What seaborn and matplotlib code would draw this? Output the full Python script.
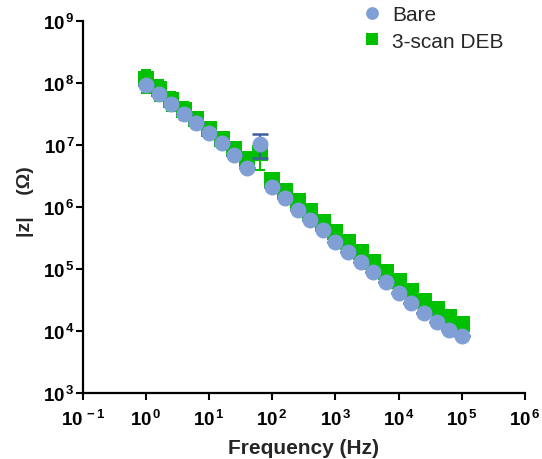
import numpy as np
import pandas as pd
import seaborn as sns
import matplotlib
matplotlib.use("Agg")
import matplotlib.pyplot as plt
from matplotlib.lines import Line2D

# Impedance magnitude vs. frequency (Bode plot), mean of scans
freq_hz = [1.0, 1.585, 2.512, 3.981, 6.31, 10.0, 15.85, 25.12, 39.81, 63.1,
           100.0, 158.5, 251.2, 398.1, 631.0, 1000.0, 1585.0, 2512.0, 3981.0, 6310.0,
           10000.0, 15850.0, 25120.0, 39810.0, 63100.0, 100000.0]

bare_z = [9.3e7, 6.6e7, 4.6e7, 3.2e7, 2.26e7, 1.55e7, 1.07e7, 6.9e6, 4.3e6, 1.05e7,
          2.1e6, 1.38e6, 8.9e5, 6.2e5, 4.2e5, 2.75e5, 1.86e5, 1.29e5, 8.9e4, 6.2e4,
          4.1e4, 2.8e4, 1.95e4, 1.38e4, 1.05e4, 8.3e3]
bare_sd = [0, 0, 0, 0, 0, 0, 0, 0, 0, 4.3e6,
           0, 0, 0, 0, 0, 0, 0, 0, 0, 0,
           0, 0, 0, 0, 0, 0]

deb_z = [1.16e8, 8.1e7, 5.4e7, 3.7e7, 2.6e7, 1.8e7, 1.23e7, 8.5e6, 6.0e6, 7.4e6,
         2.75e6, 1.82e6, 1.23e6, 8.7e5, 5.75e5, 3.9e5, 2.7e5, 1.86e5, 1.32e5, 9.1e4,
         6.3e4, 4.5e4, 3.1e4, 2.24e4, 1.7e4, 1.32e4]
deb_sd = [4.6e7, 3.0e7, 1.8e7, 1.2e7, 0, 0, 0, 0, 0, 3.4e6,
          0, 0, 0, 0, 0, 0, 0, 0, 0, 0,
          0, 0, 0, 0, 0, 0]

series_names = ["Bare", "3-scan DEB"]
x_tick_exps = [-1, 0, 1, 2, 3, 4, 5, 6]
y_tick_exps = [3, 4, 5, 6, 7, 8, 9]

bare_color = "#7f9fd5"
bare_err_color = "#3e5f9e"
deb_color = "#00c000"

sns.set_style("ticks")
plt.rcParams["font.family"] = ["Liberation Sans", "DejaVu Sans"]
plt.rcParams["mathtext.fontset"] = "custom"
plt.rcParams["mathtext.rm"] = "Liberation Sans:bold"
plt.rcParams["mathtext.bf"] = "Liberation Sans:bold"
plt.rcParams["mathtext.it"] = "Liberation Sans:bold"


def pow10_label(e):
    return f"$10^{{\\,{e}}}$"


df_bare = pd.DataFrame({"freq": freq_hz, "z": bare_z, "sd": bare_sd})
df_deb = pd.DataFrame({"freq": freq_hz, "z": deb_z, "sd": deb_sd})

fig = plt.figure(figsize=(5.42, 4.60), dpi=100)
ax = fig.add_axes([0.1526, 0.1435, 0.816, 0.8085])
ax.set_xscale("log")
ax.set_yscale("log")

# 3-scan DEB: error bars under the squares
ax.errorbar(df_deb["freq"], df_deb["z"], yerr=df_deb["sd"], fmt="none",
            ecolor=deb_color, elinewidth=1.5, capsize=3.8, capthick=1.5, zorder=1)
sns.scatterplot(data=df_deb, x="freq", y="z", marker="s", s=122, color=deb_color,
                linewidth=0, ax=ax, zorder=2, legend=False)

# Bare: error bars then circles on top
ax.errorbar(df_bare["freq"], df_bare["z"], yerr=df_bare["sd"], fmt="none",
            ecolor=bare_err_color, elinewidth=1.5, capsize=5.6, capthick=1.8, zorder=3)
sns.scatterplot(data=df_bare, x="freq", y="z", marker="o", s=132, color=bare_color,
                linewidth=0, ax=ax, zorder=4, legend=False)

ax.set_xlim(10.0 ** x_tick_exps[0], 10.0 ** x_tick_exps[-1])
ax.set_ylim(10.0 ** y_tick_exps[0], 10.0 ** y_tick_exps[-1])
ax.set_xticks([10.0 ** e for e in x_tick_exps])
ax.set_xticklabels([pow10_label(e) for e in x_tick_exps])
ax.set_yticks([10.0 ** e for e in y_tick_exps])
ax.set_yticklabels([pow10_label(e) for e in y_tick_exps])
ax.minorticks_off()

for side in ["top", "right"]:
    ax.spines[side].set_visible(False)
for side in ["left", "bottom"]:
    ax.spines[side].set_linewidth(1.6)
    ax.spines[side].set_color("black")
ax.tick_params(axis="both", which="major", length=4.8, width=1.5, color="black",
               labelsize=13.5, labelcolor="black")
ax.tick_params(axis="x", pad=7)
ax.tick_params(axis="y", pad=0.5)

ax.set_xlabel("Frequency (Hz)", fontsize=15, fontweight="bold", labelpad=6)
ax.set_ylabel("|z|    (Ω)", fontsize=14, fontweight="bold")
ax.yaxis.set_label_coords(-0.11, 0.516)

handles = [
    Line2D([], [], linestyle="none", marker="o", markersize=9.2,
           markerfacecolor=bare_color, markeredgewidth=0),
    Line2D([], [], linestyle="none", marker="s", markersize=8.4,
           markerfacecolor=deb_color, markeredgewidth=0),
]
fig.legend(handles, series_names, loc="upper left", bbox_to_anchor=(0.652, 1.004),
           frameon=False, fontsize=15, handlelength=1.0, handletextpad=0.45,
           labelspacing=0.35, borderaxespad=0)

fig.savefig("out.png", dpi=100)
